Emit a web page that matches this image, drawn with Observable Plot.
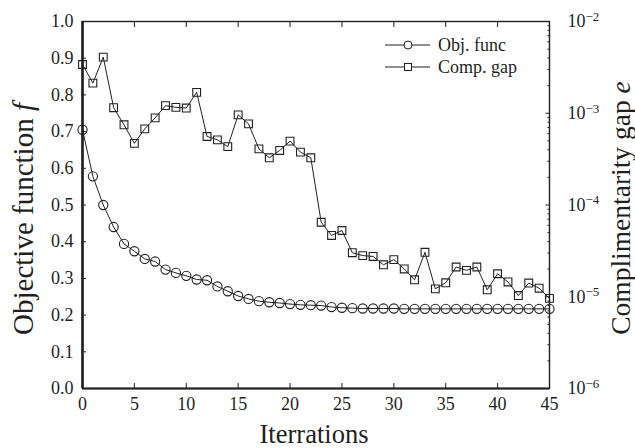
<!DOCTYPE html>
<html>
<head>
<meta charset="utf-8">
<script src="https://cdn.jsdelivr.net/npm/d3@7"></script>
<script src="https://cdn.jsdelivr.net/npm/@observablehq/plot@0.6"></script>
<style>
  html, body { margin: 0; padding: 0; background: #fff; }
  #chart { width: 635px; height: 448px; }
  #chart svg, #chart svg text, #chart svg tspan { font-family: "Liberation Serif", "Times New Roman", serif !important; }
</style>
</head>
<body>
<div id="chart"></div>
<script>
// ---- data ----
const iterations = [0,1,2,3,4,5,6,7,8,9,10,11,12,13,14,15,16,17,18,19,20,21,22,23,24,25,26,27,28,29,30,31,32,33,34,35,36,37,38,39,40,41,42,43,44,45];
const objFunc = [0.705,0.578,0.500,0.440,0.394,0.374,0.353,0.346,0.324,0.315,0.307,0.297,0.295,0.278,0.265,0.252,0.244,0.238,0.235,0.233,0.230,0.228,0.227,0.226,0.222,0.220,0.219,0.218,0.218,0.218,0.218,0.217,0.217,0.217,0.217,0.217,0.217,0.217,0.217,0.217,0.217,0.217,0.217,0.217,0.217,0.217];
const compGap = [3.40e-3,2.13e-3,4.09e-3,1.15e-3,7.48e-4,4.70e-4,6.76e-4,8.91e-4,1.21e-3,1.16e-3,1.14e-3,1.69e-3,5.58e-4,5.13e-4,4.33e-4,9.61e-4,7.66e-4,4.09e-4,3.27e-4,3.93e-4,4.97e-4,3.77e-4,3.27e-4,6.49e-5,4.66e-5,5.27e-5,3.02e-5,2.81e-5,2.75e-5,2.23e-5,2.54e-5,2.01e-5,1.53e-5,3.05e-5,1.22e-5,1.42e-5,2.11e-5,1.94e-5,2.11e-5,1.19e-5,1.78e-5,1.45e-5,1.03e-5,1.41e-5,1.24e-5,9.6e-6];
const xTicks = [0,5,10,15,20,25,30,35,40,45];
const yTicks = [0,0.1,0.2,0.3,0.4,0.5,0.6,0.7,0.8,0.9,1.0];
const rightDecades = [-6,-5,-4,-3,-2];
const rightMinorMultipliers = [2,3,4,5,6,7,8,9];
const seriesNames = ["Obj. func", "Comp. gap"];
const xLabel = "Iterrations";
const yLabelLeft = ["Objective function ", "f"];
const yLabelRight = ["Complimentarity gap ", "e"];

// right log axis (1e-6 .. 1e-2) is mapped onto the shared 0..1 y scale
const logMin = -6, logMax = -2;
const toY = v => (Math.log10(v) - logMin) / (logMax - logMin);

const objData = iterations.map((it, i) => ({it, v: objFunc[i]}));
const gapData = iterations.map((it, i) => ({it, v: toY(compGap[i])}));
const majorRight = rightDecades.map(k => (k - logMin) / (logMax - logMin));
const minorRight = [];
for (let k = -6; k < -2; k++) for (const m of rightMinorMultipliers) minorRight.push(toY(m * Math.pow(10, k)));

const ink = "#231f20";
const font = "Liberation Serif";

const plot = Plot.plot({
  width: 635,
  height: 448,
  marginLeft: 82,
  marginRight: 86,
  marginTop: 21,
  marginBottom: 60,
  style: {fontFamily: font, fontSize: "18px", color: ink, background: "white", overflow: "visible"},
  x: {domain: [0, 45]},
  y: {domain: [0, 1]},
  marks: [
    // tick marks, pointing inward
    Plot.axisX(xTicks, {anchor: "bottom", tickSize: 5, dy: -5, fill: "none", label: null, stroke: ink}),
    Plot.axisX(xTicks, {anchor: "top", tickSize: 5, dy: 5, fill: "none", label: null, stroke: ink}),
    Plot.axisY(yTicks, {anchor: "left", tickSize: 4, dx: 4, fill: "none", label: null, stroke: ink}),
    Plot.axisY(majorRight, {anchor: "right", tickSize: 4.5, dx: -4.5, fill: "none", label: null, stroke: ink}),
    Plot.axisY(minorRight, {anchor: "right", tickSize: 2.5, dx: -2.5, fill: "none", label: null, stroke: ink}),
    // tick labels
    Plot.axisX(xTicks, {anchor: "bottom", tickSize: 0, tickPadding: 9, label: null, fontSize: 18, fontFamily: font, fill: ink}),
    Plot.axisY(yTicks, {anchor: "left", tickSize: 0, tickPadding: 9, label: null, fontSize: 18, fontFamily: font, fill: ink, tickFormat: d => d.toFixed(1)}),
    Plot.axisY(majorRight, {anchor: "right", tickSize: 0, tickPadding: 18, label: null, fontSize: 18, fontFamily: font, fill: ink,
      tickFormat: d => "10|" + String(Math.round(d * (logMax - logMin) + logMin)).replace("-", "\u2212")}),
    // frame
    Plot.frame({stroke: ink, strokeWidth: 1.4}),
    Plot.ruleX([0], {stroke: ink, strokeWidth: 2.6}),
    Plot.ruleY([0], {stroke: ink, strokeWidth: 2}),
    // series
    Plot.line(gapData, {x: "it", y: "v", stroke: ink, strokeWidth: 1}),
    Plot.dot(gapData, {x: "it", y: "v", symbol: "square", r: 4.4, stroke: ink, strokeWidth: 1.1, fill: "none"}),
    Plot.line(objData, {x: "it", y: "v", stroke: ink, strokeWidth: 1}),
    Plot.dot(objData, {x: "it", y: "v", symbol: "circle", r: 4.6, stroke: ink, strokeWidth: 1.1, fill: "none"})
  ]
});

document.getElementById("chart").appendChild(plot);
const svg = d3.select(plot).attr("font-family", font);

// superscript exponents on the right axis
svg.selectAll("text").each(function() {
  const t = this.textContent;
  if (t && t.startsWith("10|")) {
    const exp = t.slice(3);
    const sel = d3.select(this);
    sel.text(null);
    sel.append("tspan").text("10");
    sel.append("tspan").attr("dy", "-0.5em").attr("font-size", "13px").text(exp);
  }
});

// axis titles
svg.append("text")
  .attr("x", 314).attr("y", 443)
  .attr("text-anchor", "middle")
  .attr("font-family", font).attr("font-size", 26.5).attr("fill", ink)
  .text(xLabel);

const lt = svg.append("text")
  .attr("transform", "translate(33,219) rotate(-90)")
  .attr("text-anchor", "middle")
  .attr("font-family", font).attr("font-size", 29).attr("fill", ink);
lt.append("tspan").text(yLabelLeft[0]);
lt.append("tspan").attr("font-style", "italic").text(yLabelLeft[1]);

const rt = svg.append("text")
  .attr("transform", "translate(630,208) rotate(-90)")
  .attr("text-anchor", "middle")
  .attr("font-family", font).attr("font-size", 27.5).attr("fill", ink);
rt.append("tspan").text(yLabelRight[0]);
rt.append("tspan").attr("font-style", "italic").text(yLabelRight[1]);

// legend
const legend = svg.append("g").attr("font-family", font).attr("font-size", 18).attr("fill", ink).attr("text-anchor", "start");
const rows = [{y: 45, sym: "circle"}, {y: 67, sym: "square"}];
rows.forEach((r, i) => {
  legend.append("line").attr("x1", 385).attr("x2", 430).attr("y1", r.y).attr("y2", r.y)
    .attr("stroke", ink).attr("stroke-width", 1);
  if (r.sym === "circle") {
    legend.append("circle").attr("cx", 408).attr("cy", r.y).attr("r", 4).attr("fill", "white").attr("stroke", ink).attr("stroke-width", 1);
  } else {
    legend.append("rect").attr("x", 404.5).attr("y", r.y - 3.5).attr("width", 7).attr("height", 7).attr("fill", "white").attr("stroke", ink).attr("stroke-width", 1);
  }
  legend.append("text").attr("x", 438).attr("y", r.y + 5.5).attr("text-anchor", "start").text(seriesNames[i]);
});
</script>
</body>
</html>
